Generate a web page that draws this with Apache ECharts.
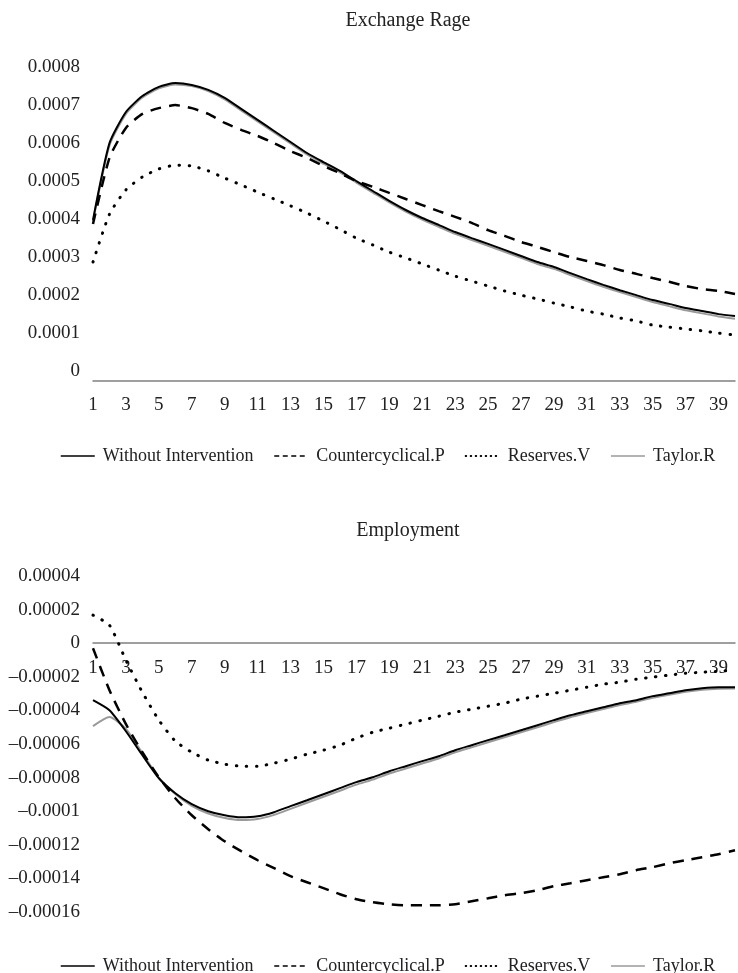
<!DOCTYPE html>
<html>
<head>
<meta charset="utf-8">
<script src="https://cdn.jsdelivr.net/npm/echarts@6/dist/echarts.min.js"></script>
<style>
  html, body { margin: 0; padding: 0; background: #fff; }
  #chart { width: 738px; height: 973px; }
</style>
</head>
<body>
<div id="chart"></div>
<script>
// periods 1..40
var periods = []
for (var i = 1; i <= 40; i++) periods.push(String(i))

var seriesNames = ['Without Intervention', 'Countercyclical.P', 'Reserves.V', 'Taylor.R']

// Exchange Rage
var rateWithout = [4.24e-4, 6.26e-4, 7.08e-4, 7.50e-4, 7.74e-4, 7.84e-4, 7.79e-4, 7.66e-4, 7.45e-4, 7.16e-4,
  6.87e-4, 6.58e-4, 6.29e-4, 6.00e-4, 5.76e-4, 5.53e-4, 5.26e-4, 5.00e-4, 4.74e-4, 4.50e-4,
  4.29e-4, 4.11e-4, 3.92e-4, 3.76e-4, 3.61e-4, 3.45e-4, 3.29e-4, 3.13e-4, 3.00e-4, 2.84e-4,
  2.68e-4, 2.53e-4, 2.39e-4, 2.26e-4, 2.13e-4, 2.03e-4, 1.92e-4, 1.84e-4, 1.76e-4, 1.71e-4]
var rateCounter = [4.13e-4, 5.87e-4, 6.66e-4, 7.03e-4, 7.18e-4, 7.26e-4, 7.18e-4, 7.03e-4, 6.79e-4, 6.61e-4,
  6.45e-4, 6.26e-4, 6.05e-4, 5.87e-4, 5.66e-4, 5.47e-4, 5.26e-4, 5.11e-4, 4.95e-4, 4.79e-4,
  4.63e-4, 4.47e-4, 4.32e-4, 4.16e-4, 3.97e-4, 3.82e-4, 3.66e-4, 3.53e-4, 3.39e-4, 3.26e-4,
  3.16e-4, 3.05e-4, 2.92e-4, 2.82e-4, 2.71e-4, 2.61e-4, 2.50e-4, 2.42e-4, 2.37e-4, 2.29e-4]
var rateReserves = [3.13e-4, 4.39e-4, 5.03e-4, 5.37e-4, 5.58e-4, 5.68e-4, 5.66e-4, 5.53e-4, 5.34e-4, 5.16e-4,
  4.97e-4, 4.79e-4, 4.61e-4, 4.42e-4, 4.21e-4, 3.99e-4, 3.76e-4, 3.58e-4, 3.39e-4, 3.24e-4,
  3.08e-4, 2.92e-4, 2.76e-4, 2.63e-4, 2.50e-4, 2.37e-4, 2.26e-4, 2.16e-4, 2.05e-4, 1.95e-4,
  1.84e-4, 1.76e-4, 1.66e-4, 1.58e-4, 1.47e-4, 1.42e-4, 1.37e-4, 1.32e-4, 1.26e-4, 1.21e-4]
var rateTaylor = [4.20e-4, 6.20e-4, 7.03e-4, 7.46e-4, 7.70e-4, 7.80e-4, 7.76e-4, 7.63e-4, 7.41e-4, 7.12e-4,
  6.83e-4, 6.54e-4, 6.25e-4, 5.96e-4, 5.72e-4, 5.49e-4, 5.22e-4, 4.96e-4, 4.70e-4, 4.46e-4,
  4.25e-4, 4.06e-4, 3.87e-4, 3.71e-4, 3.56e-4, 3.40e-4, 3.24e-4, 3.08e-4, 2.95e-4, 2.79e-4,
  2.63e-4, 2.48e-4, 2.34e-4, 2.21e-4, 2.08e-4, 1.97e-4, 1.86e-4, 1.78e-4, 1.70e-4, 1.64e-4]

// Employment
var empWithout = [-3.39e-5, -3.99e-5, -5.24e-5, -6.67e-5, -8.04e-5, -8.93e-5, -9.58e-5, -10.00e-5, -10.24e-5, -10.36e-5,
  -10.30e-5, -10.06e-5, -9.70e-5, -9.35e-5, -8.99e-5, -8.63e-5, -8.27e-5, -7.98e-5, -7.62e-5, -7.32e-5,
  -7.02e-5, -6.73e-5, -6.37e-5, -6.07e-5, -5.77e-5, -5.48e-5, -5.18e-5, -4.88e-5, -4.58e-5, -4.29e-5,
  -4.05e-5, -3.81e-5, -3.57e-5, -3.39e-5, -3.15e-5, -2.98e-5, -2.80e-5, -2.68e-5, -2.62e-5, -2.62e-5]
var empCounter = [-0.30e-5, -2.80e-5, -4.82e-5, -6.49e-5, -7.98e-5, -9.23e-5, -10.24e-5, -11.07e-5, -11.79e-5, -12.38e-5,
  -12.92e-5, -13.39e-5, -13.87e-5, -14.23e-5, -14.58e-5, -14.94e-5, -15.24e-5, -15.42e-5, -15.54e-5, -15.60e-5,
  -15.60e-5, -15.60e-5, -15.54e-5, -15.36e-5, -15.18e-5, -15.00e-5, -14.88e-5, -14.70e-5, -14.46e-5, -14.29e-5,
  -14.11e-5, -13.93e-5, -13.75e-5, -13.51e-5, -13.33e-5, -13.10e-5, -12.92e-5, -12.74e-5, -12.56e-5, -12.32e-5]
var empReserves = [1.67e-5, 1.07e-5, -1.01e-5, -2.92e-5, -4.58e-5, -5.83e-5, -6.49e-5, -6.96e-5, -7.20e-5, -7.32e-5,
  -7.32e-5, -7.14e-5, -6.90e-5, -6.61e-5, -6.37e-5, -6.07e-5, -5.65e-5, -5.30e-5, -5.06e-5, -4.82e-5,
  -4.58e-5, -4.35e-5, -4.11e-5, -3.93e-5, -3.75e-5, -3.57e-5, -3.33e-5, -3.15e-5, -2.98e-5, -2.80e-5,
  -2.62e-5, -2.44e-5, -2.32e-5, -2.14e-5, -2.02e-5, -1.90e-5, -1.79e-5, -1.73e-5, -1.67e-5, -1.61e-5]
var empTaylor = [-4.94e-5, -4.40e-5, -5.10e-5, -6.55e-5, -8.00e-5, -8.98e-5, -9.68e-5, -10.14e-5, -10.40e-5, -10.52e-5,
  -10.46e-5, -10.22e-5, -9.86e-5, -9.50e-5, -9.14e-5, -8.78e-5, -8.42e-5, -8.12e-5, -7.76e-5, -7.46e-5,
  -7.16e-5, -6.86e-5, -6.50e-5, -6.20e-5, -5.90e-5, -5.60e-5, -5.30e-5, -5.00e-5, -4.70e-5, -4.41e-5,
  -4.16e-5, -3.92e-5, -3.68e-5, -3.49e-5, -3.25e-5, -3.07e-5, -2.89e-5, -2.77e-5, -2.71e-5, -2.70e-5]

// tick labels
var rateTicks = ['0', '0.0001', '0.0002', '0.0003', '0.0004', '0.0005', '0.0006', '0.0007', '0.0008']
var empTicks = ['\u20130.00016', '\u20130.00014', '\u20130.00012', '\u20130.0001', '\u20130.00008', '\u20130.00006',
  '\u20130.00004', '\u20130.00002', '0', '0.00002', '0.00004']

var FONT = 'Liberation Serif'
var textColor = '#222'

var lineStyles = [
  { color: '#000', width: 2 },
  { color: '#000', width: 2.5, type: [11, 8] },
  { color: '#000', width: 3, type: [0.5, 9.5], cap: 'round' },
  { color: '#9a9a9a', width: 2 }
]
// smaller patterns for the legend samples
var legendLines = [
  { color: '#000', width: 1.5 },
  { color: '#000', width: 1.5, type: [5, 3.5] },
  { color: '#000', width: 2, type: [0.5, 4.5], cap: 'round' },
  { color: '#9a9a9a', width: 1.5 }
]

function makeSeries (names, datas, idx) {
  return names.map(function (name, k) {
    return {
      name: name,
      type: 'line',
      xAxisIndex: idx,
      yAxisIndex: idx,
      data: datas[k],
      symbol: 'none',
      smooth: 0.2,
      z: k === 3 ? 1 : 2,
      lineStyle: lineStyles[k],
      itemStyle: { color: lineStyles[k].color }
    }
  })
}

function xAxis (idx, offset) {
  return {
    type: 'category',
    gridIndex: idx,
    data: periods,
    boundaryGap: false,
    offset: offset,
    axisTick: { show: false },
    axisLine: { onZero: false, lineStyle: { color: '#808080', width: 1.5 } },
    axisLabel: { interval: 1, color: textColor, fontFamily: FONT, fontSize: 19, margin: 15 }
  }
}

var legendBase = {
  data: seriesNames.map(function (n, k) {
    return { name: n, lineStyle: legendLines[k], itemStyle: { opacity: 0 } }
  }),
  left: 55,
  itemWidth: 34,
  itemHeight: 14,
  itemGap: 20,
  itemStyle: { opacity: 0 },
  textStyle: { fontFamily: FONT, fontSize: 18, color: textColor, padding: [0, 0, 0, 3] }
}

var myChart = echarts.init(document.getElementById('chart'))
myChart.setOption({
  animation: false,
  backgroundColor: '#fff',
  title: [
    { text: 'Exchange Rage', left: 403, top: 6, textAlign: 'center',
      textStyle: { fontFamily: FONT, fontSize: 20, fontWeight: 'normal', color: textColor } },
    { text: 'Employment', left: 403, top: 516, textAlign: 'center',
      textStyle: { fontFamily: FONT, fontSize: 20, fontWeight: 'normal', color: textColor } }
  ],
  legend: [
    Object.assign({ top: 442 }, legendBase),
    Object.assign({ top: 952 }, legendBase)
  ],
  grid: [
    { left: 93, right: 3, top: 77, height: 304 },
    { left: 93, right: 3, top: 576, height: 336 }
  ],
  // lower x axis sits on the zero line
  xAxis: [xAxis(0, 0), xAxis(1, -268.8)],
  yAxis: [
    {
      type: 'value',
      gridIndex: 0,
      min: 0,
      max: 0.0008,
      interval: 0.0001,
      splitLine: { show: false },
      axisLine: { show: false },
      axisTick: { show: false },
      axisLabel: {
        color: textColor, fontFamily: FONT, fontSize: 19, margin: 13,
        verticalAlign: 'bottom', lineHeight: 19,
        formatter: function (v) { return rateTicks[Math.round(v / 0.0001)] }
      }
    },
    {
      type: 'value',
      gridIndex: 1,
      min: -0.00016,
      max: 0.00004,
      interval: 0.00002,
      splitLine: { show: false },
      axisLine: { show: false },
      axisTick: { show: false },
      axisLabel: {
        color: textColor, fontFamily: FONT, fontSize: 19, margin: 13,
        formatter: function (v) { return empTicks[Math.round(v / 0.00002) + 8] }
      }
    }
  ],
  series: makeSeries(seriesNames, [rateWithout, rateCounter, rateReserves, rateTaylor], 0)
    .concat(makeSeries(seriesNames, [empWithout, empCounter, empReserves, empTaylor], 1))
})
</script>
</body>
</html>
